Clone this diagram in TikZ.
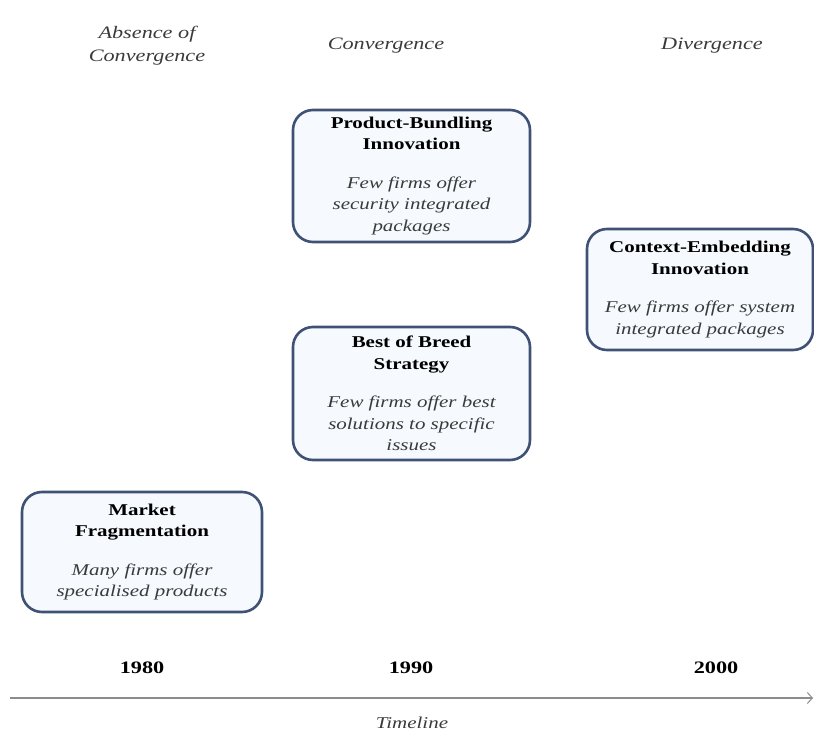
\documentclass[tikz,border=0pt]{standalone}
\usepackage{fontspec}
\setmainfont{Liberation Serif}
\newfontfamily\widefont{Liberation Serif}[FakeStretch=1.27]
\usetikzlibrary{arrows.meta}
\definecolor{boxline}{HTML}{3F5275}
\definecolor{boxfill}{HTML}{F6FAFE}
\definecolor{softtext}{HTML}{3A3A3A}
\definecolor{axisgray}{HTML}{8C8C8C}
% one line of a box title, one line of a box description
\newcommand{\ttl}[1]{{\widefont\bfseries #1}}
\newcommand{\dsc}[1]{{\widefont\itshape\color{softtext}#1}}
\begin{document}
\begin{tikzpicture}[x=1pt,y=-1pt,
  phasebox/.style={draw=boxline, line width=2.6pt, fill=boxfill,
    rounded corners=20pt, align=center, inner sep=0pt,
    font=\fontsize{16.5}{21.5}\selectfont},
  header/.style={align=center, text=softtext,
    font=\widefont\itshape\fontsize{17.5}{23}\selectfont},
  year/.style={font=\widefont\fontsize{17.5}{22}\selectfont\bfseries},
  axislabel/.style={text=softtext, font=\widefont\itshape\fontsize{16.5}{22}\selectfont}]
\useasboundingbox (0,0) rectangle (814,751);

% phase headings
\node[header] (h1) at (147,46) {Absence of\\Convergence};
\node[header] (h2) at (386,46) {Convergence};
\node[header] (h3) at (712,46) {Divergence};

% strategy boxes
\node[phasebox, minimum width=237pt, minimum height=132pt] (pb) at (411.5,176)
  {\ttl{Product-Bundling}\\\ttl{Innovation}\\[17pt]\dsc{Few firms offer}\\\dsc{security integrated}\\\dsc{packages}};

\node[phasebox, minimum width=226pt, minimum height=121pt] (ce) at (700,289.5)
  {\ttl{Context-Embedding}\\\ttl{Innovation}\\[17pt]\dsc{Few firms offer system}\\\dsc{integrated packages}};

\node[phasebox, minimum width=237pt, minimum height=133pt] (bb) at (411.5,393.5)
  {\ttl{Best of Breed}\\\ttl{Strategy}\\[17pt]\dsc{Few firms offer best}\\\dsc{solutions to specific}\\\dsc{issues}};

\node[phasebox, minimum width=240pt, minimum height=120pt] (mf) at (142,552)
  {\ttl{Market}\\\ttl{Fragmentation}\\[17pt]\dsc{Many firms offer}\\\dsc{specialised products}};

% timeline
\coordinate (tl0) at (10,698);
\coordinate (tl1) at (813,698);
\draw[axisgray, line width=2.4pt,
  -{Straight Barb[length=5pt,width=11pt,line width=1pt]}] (tl0) -- (tl1);
\node[year] (y1) at (142,668) {1980};
\node[year] (y2) at (411,668) {1990};
\node[year] (y3) at (716,668) {2000};
\node[axislabel] (tl) at (412,723) {Timeline};
\end{tikzpicture}
\end{document}
